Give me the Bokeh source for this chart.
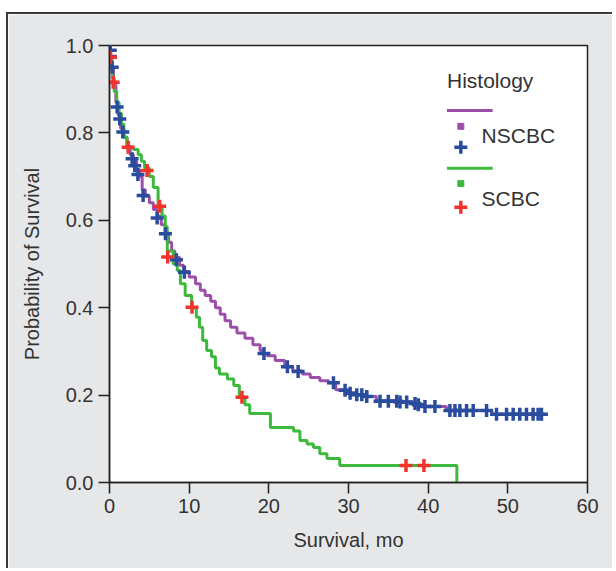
from bokeh.plotting import figure
from bokeh.models import Range1d, NumeralTickFormatter, FixedTicker, Label
from bokeh.embed import file_html
from bokeh.resources import INLINE

# ---- data ----
nscbc_time = [0, 0.1, 0.3, 0.5, 0.8, 1.1, 1.4, 1.8, 2.2, 2.6, 3.0, 3.4, 3.8, 4.1, 4.5, 5.0, 5.5,
              6.0, 6.5, 7.0, 7.4, 7.8, 8.2, 8.8, 9.3, 10.0, 10.8, 11.4, 12.0, 12.7, 13.3, 13.9,
              14.5, 15.2, 16.0, 17.0, 18.0, 18.9, 19.2, 19.8, 20.8, 22.0, 23.0, 24.2, 25.2, 26.4,
              27.5, 28.4, 29.8, 30.8, 32.0, 33.5, 36.3, 38.0, 38.6, 39.3, 42.3, 48.0, 54.3]
nscbc_surv = [1.0, 0.97, 0.95, 0.91, 0.87, 0.84, 0.81, 0.79, 0.77, 0.75, 0.735, 0.715, 0.70, 0.67,
              0.655, 0.64, 0.625, 0.61, 0.59, 0.572, 0.55, 0.53, 0.515, 0.497, 0.483, 0.47, 0.455,
              0.44, 0.428, 0.415, 0.40, 0.385, 0.37, 0.355, 0.342, 0.33, 0.315, 0.302, 0.295, 0.29,
              0.279, 0.265, 0.255, 0.248, 0.24, 0.233, 0.228, 0.212, 0.205, 0.201, 0.197, 0.187,
              0.184, 0.181, 0.178, 0.174, 0.165, 0.156, 0.156]

scbc_time = [0, 0.1, 0.2, 0.4, 0.6, 0.9, 1.2, 1.5, 1.8, 2.2, 3.0, 3.6, 4.0, 4.4, 5.0, 5.5, 6.1,
             6.6, 7.0, 7.25, 8.0, 8.5, 8.9, 9.5, 10.3, 10.9, 11.3, 11.7, 12.2, 12.8, 13.3, 13.8,
             14.8, 15.6, 16.3, 17.0, 17.6, 20.2, 23.1, 23.9, 24.8, 25.6, 26.4, 27.3, 28.9, 43.6]
scbc_surv = [1.0, 0.97, 0.95, 0.925, 0.895, 0.87, 0.845, 0.82, 0.79, 0.767, 0.762, 0.75, 0.735,
             0.72, 0.70, 0.675, 0.632, 0.61, 0.585, 0.53, 0.50, 0.485, 0.455, 0.428, 0.40, 0.378,
             0.355, 0.325, 0.302, 0.288, 0.262, 0.248, 0.237, 0.222, 0.195, 0.178, 0.158, 0.126,
             0.118, 0.096, 0.088, 0.080, 0.066, 0.055, 0.039, 0.0]

nscbc_cens_time = [0.1, 0.1, 0.34, 0.96, 1.29, 1.67, 2.84, 3.17, 3.57, 4.22, 5.98, 7.02, 8.40,
                   9.40, 19.39, 22.33, 23.68, 28.11, 29.57, 30.20, 31.04, 31.67, 32.29, 33.96,
                   35.0, 36.05, 36.47, 37.30, 38.35, 38.76, 39.60, 40.85, 42.73, 43.36, 43.98,
                   44.82, 45.65, 47.33, 48.58, 49.84, 50.67, 51.50, 52.34, 53.17, 53.80, 54.22]
nscbc_cens_surv = [0.989, 0.975, 0.950, 0.859, 0.832, 0.802, 0.741, 0.725, 0.705, 0.657, 0.605,
                   0.569, 0.510, 0.481, 0.295, 0.265, 0.254, 0.228, 0.211, 0.204, 0.201, 0.201,
                   0.197, 0.186, 0.186, 0.186, 0.184, 0.184, 0.181, 0.178, 0.174, 0.174, 0.165,
                   0.165, 0.165, 0.165, 0.165, 0.165, 0.156, 0.156, 0.156, 0.156, 0.156, 0.156,
                   0.156, 0.156]

scbc_cens_time = [0.13, 0.46, 2.34, 4.72, 6.30, 7.31, 10.36, 16.63, 37.22, 39.47]
scbc_cens_surv = [0.973, 0.916, 0.767, 0.714, 0.632, 0.516, 0.401, 0.195, 0.039, 0.039]

x_ticks = [0, 10, 20, 30, 40, 50, 60]
y_ticks = [0.0, 0.2, 0.4, 0.6, 0.8, 1.0]
series_names = ["NSCBC", "SCBC"]
legend_title = "Histology"

# ---- styling ----
PURPLE = "#9c4fa9"
GREEN = "#3dba3d"
BLUE = "#2a4c9e"
RED = "#f2332c"
TEXT = "#333333"
FONT = "Liberation Sans"

p = figure(width=606, height=556, x_range=Range1d(0, 60), y_range=Range1d(0, 1),
           output_backend="svg", toolbar_location=None,
           min_border_left=101, min_border_top=31, min_border_right=27, min_border_bottom=88)
p.margin = (12, 0, 0, 6)
p.styles = {"border-top": "2px solid #3a3a3a", "border-left": "2px solid #3a3a3a"}

p.background_fill_color = "white"
p.border_fill_color = "#e6e7e8"
p.outline_line_color = "#222222"
p.outline_line_width = 1.5
p.grid.visible = False

for ax in (p.xaxis[0], p.yaxis[0]):
    ax.axis_line_color = "#222222"
    ax.axis_line_width = 1.5
    ax.major_tick_line_color = "#222222"
    ax.major_tick_line_width = 1.5
    ax.major_tick_out = 11
    ax.major_tick_in = 0
    ax.minor_tick_out = 0
    ax.minor_tick_in = 0
    ax.major_label_text_font = FONT
    ax.major_label_text_font_size = "20px"
    ax.major_label_text_color = TEXT
    ax.axis_label_text_font = FONT
    ax.axis_label_text_font_size = "20px"
    ax.axis_label_text_font_style = "normal"
    ax.axis_label_text_color = TEXT

p.xaxis.ticker = FixedTicker(ticks=x_ticks)
p.yaxis.ticker = FixedTicker(ticks=y_ticks)
p.yaxis.formatter = NumeralTickFormatter(format="0.0")
p.xaxis.axis_label = "Survival, mo"
p.yaxis.axis_label = "Probability of Survival"
p.xaxis.major_label_standoff = 5
p.yaxis.major_label_standoff = 5
p.xaxis.axis_label_standoff = 13
p.yaxis.axis_label_standoff = 20

# curves
p.step(nscbc_time, nscbc_surv, mode="after", line_color=PURPLE, line_width=3)
p.step(scbc_time, scbc_surv, mode="after", line_color=GREEN, line_width=3)
# censor marks
p.scatter(nscbc_cens_time, nscbc_cens_surv, marker="cross", size=13, line_width=3.5,
          line_color=BLUE)
p.scatter(scbc_cens_time, scbc_cens_surv, marker="cross", size=13, line_width=3.5,
          line_color=RED)

# ---- hand-built legend (positions in data space of the fixed 0-60 / 0-1 frame) ----
lx0, lx1, lmark, ltext = 42.36, 48.1, 44.1, 46.7
p.add_layout(Label(x=lx0, y=0.92, text=legend_title, text_font=FONT, text_font_size="21px",
                   text_color=TEXT, text_baseline="middle"))
legend_rows = [
    (series_names[0], PURPLE, BLUE, 0.851, 0.815, 0.767, 0.794),
    (series_names[1], GREEN, RED, 0.719, 0.684, 0.630, 0.650),
]
for name, lc, mc, yl, ysq, ycr, ytx in legend_rows:
    p.line([lx0, lx1], [yl, yl], line_color=lc, line_width=3)
    p.scatter([lmark], [ysq], marker="square", size=6, fill_color=lc, line_color=lc)
    p.scatter([lmark], [ycr], marker="cross", size=13, line_width=3.5, line_color=mc)
    p.add_layout(Label(x=ltext, y=ytx, text=name, text_font=FONT, text_font_size="21px",
                       text_color=TEXT, text_baseline="middle"))

open("out.html", "w").write(file_html(p, INLINE))
